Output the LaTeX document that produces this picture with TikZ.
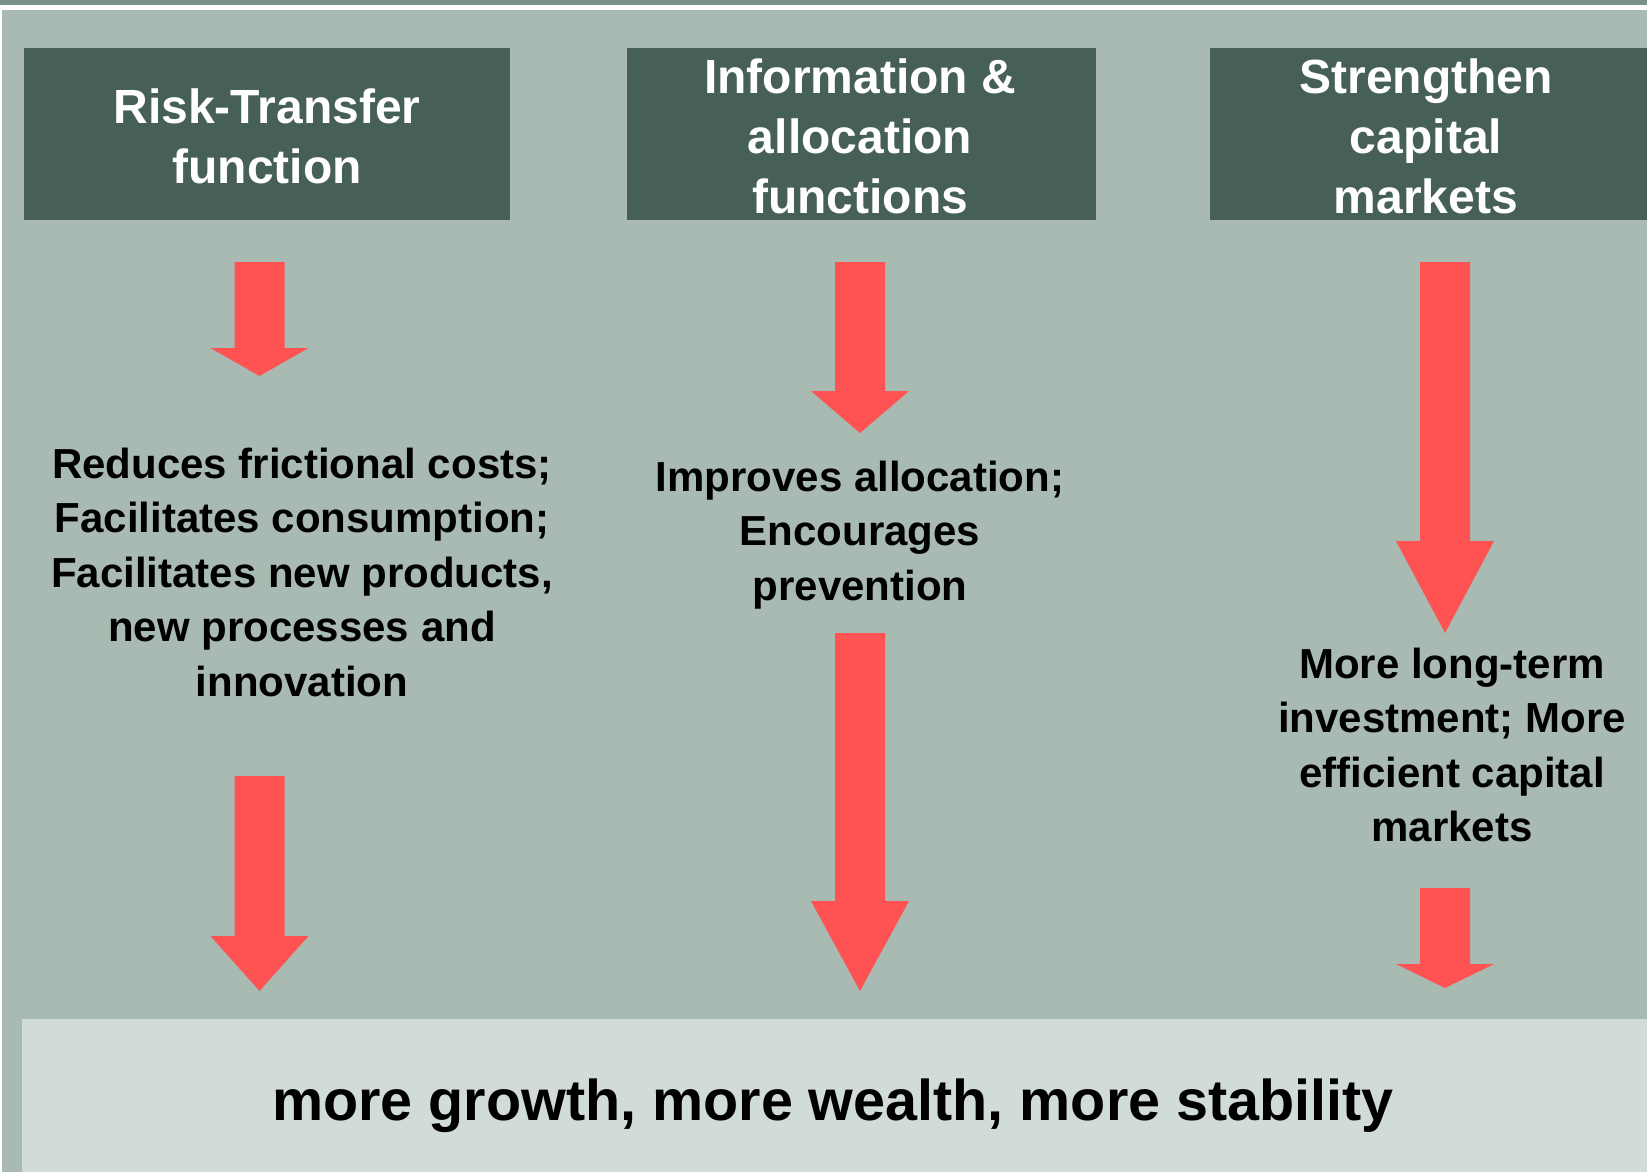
\documentclass[tikz,border=0pt]{standalone}
\usepackage{fontspec}
\setmainfont{Liberation Sans}
\definecolor{bgsage}{HTML}{A8BAB1}
\definecolor{topband}{HTML}{7A8F85}
\definecolor{boxgreen}{HTML}{476055}
\definecolor{footfill}{HTML}{D1DCD6}
\definecolor{arrowred}{HTML}{FF5252}
% downward block arrow: centre x, top y, neck y, tip y
\newcommand\blockdown[4]{%
  \fill[arrowred] ({#1-25},#2) -- ({#1+25},#2) -- ({#1+25},#3) -- ({#1+49},#3)
    -- (#1,#4) -- ({#1-49},#3) -- ({#1-25},#3) -- cycle;}
\begin{document}
\begin{tikzpicture}[x=1pt,y=-1pt,
  headbox/.style={fill=boxgreen, draw=none, inner sep=0pt, anchor=north west},
  headtext/.style={text=white, font=\bfseries\fontsize{48}{60}\selectfont, align=center, inner sep=0pt},
  bodytext/.style={text=black, font=\bfseries\fontsize{42}{54.5}\selectfont, align=center, inner sep=0pt},
  foottext/.style={text=black, font=\bfseries\fontsize{57.5}{66}\selectfont, inner sep=0pt}]
\useasboundingbox (0,0) rectangle (1647,1172);
% frame and background
\fill[white] (0,0) rectangle (1647,1172);
\fill[topband] (0,0) rectangle (1647,5);
\fill[bgsage] (2,10) rectangle (1647,1172);
% heading boxes
\node[headbox, minimum width=486pt, minimum height=172pt] (b1) at (24,48) {};
\node[headbox, minimum width=469pt, minimum height=172pt] (b2) at (627,48) {};
\node[headbox, minimum width=437pt, minimum height=172pt] (b3) at (1210,48) {};
\node[headtext] (h1) at (267,136) {Risk-Transfer\\function};
\node[headtext] (h2) at (860,136) {Information \&\\allocation\\functions};
\node[headtext] (h3) at (1426,136) {Strengthen\\capital\\markets};
% outcome box
\node[fill=footfill, draw=none, inner sep=0pt, anchor=north west,
  minimum width=1625pt, minimum height=153pt] (foot) at (22,1019) {};
\node[foottext] (ft) at (833,1106) {more growth, more wealth, more stability};
% intermediate effects
\node[bodytext] (t1) at (302,572) {Reduces frictional costs;\\Facilitates consumption;\\Facilitates new products,\\new processes and\\innovation};
\node[bodytext] (t2) at (860,535) {Improves allocation;\\Encourages\\prevention};
\node[bodytext] (t3) at (1452,745) {More long-term\\investment; More\\efficient capital\\markets};
% arrows
\blockdown{259.5}{262}{348}{376}
\blockdown{259.5}{776}{936}{991}
\blockdown{860}{262}{391}{433}
\blockdown{860}{633}{901}{991}
\blockdown{1445}{262}{541}{633}
\blockdown{1445}{888}{964}{988}
\end{tikzpicture}
\end{document}
